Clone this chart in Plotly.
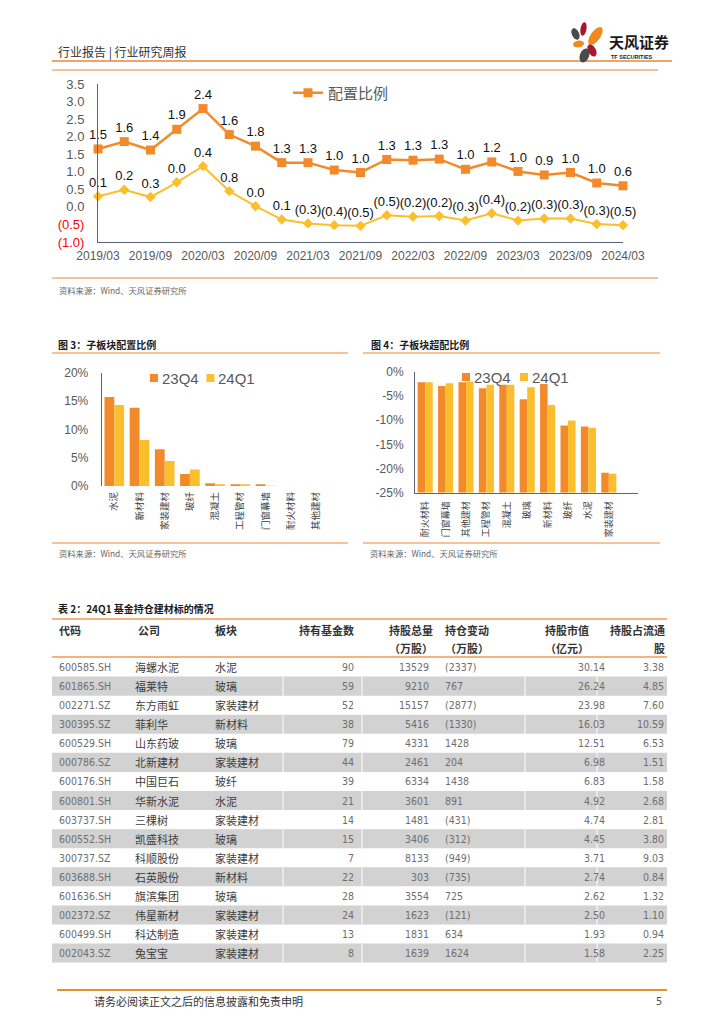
import math
import plotly.graph_objects as go

W, H = 724, 1024
PAGE_OFFSET = 8  # browser body margin; page coordinates are measured from the window corner


def fx(p):
    return (p - PAGE_OFFSET) / W


def fy(p):
    return 1 - (p - PAGE_OFFSET) / H


ORANGE = "#F28A2C"
YELLOW = "#FBBF2E"
AXIS = "#5A6578"
GREY_TXT = "#595959"
FRAME = "#F4AE74"
CJK = "Noto Sans CJK SC"
SANS = "Liberation Sans, Arial, Noto Sans CJK SC"
NARROW = "Liberation Sans Narrow, Arial Narrow, DejaVu Sans Condensed, Liberation Sans, Noto Sans CJK SC"

# ---------------- data: top line chart ----------------
quarters = ["2019/03", "2019/06", "2019/09", "2019/12", "2020/03", "2020/06", "2020/09",
            "2020/12", "2021/03", "2021/06", "2021/09", "2021/12", "2022/03", "2022/06",
            "2022/09", "2022/12", "2023/03", "2023/06", "2023/09", "2023/12", "2024/03"]
alloc_vals = [1.65, 1.86, 1.62, 2.21, 2.80, 2.06, 1.73, 1.26, 1.26, 1.05, 0.98,
              1.35, 1.33, 1.36, 1.07, 1.28, 1.01, 0.91, 0.98, 0.68, 0.60]
alloc_labels = ["1.5", "1.6", "1.4", "1.9", "2.4", "1.6", "1.8", "1.3", "1.3", "1.0", "1.0",
                "1.3", "1.3", "1.3", "1.0", "1.2", "1.0", "0.9", "1.0", "1.0", "0.6"]
over_vals = [0.30, 0.49, 0.28, 0.70, 1.16, 0.45, 0.02, -0.36, -0.47, -0.52, -0.54,
             -0.24, -0.28, -0.26, -0.39, -0.18, -0.39, -0.33, -0.33, -0.49, -0.52]
over_labels = ["0.1", "0.2", "0.3", "0.0", "0.4", "0.8", "0.0", "0.1", "(0.3)", "(0.4)", "(0.5)",
               "(0.5)", "(0.2)", "(0.2)", "(0.3)", "(0.4)", "(0.2)", "(0.3)", "(0.3)", "(0.3)", "(0.5)"]
top_yticks = [3.5, 3.0, 2.5, 2.0, 1.5, 1.0, 0.5, 0.0, -0.5, -1.0]
top_yticktext = ["3.5", "3.0", "2.5", "2.0", "1.5", "1.0", "0.5", "0.0",
                 '<span style="color:#FF0000">(0.5)</span>', '<span style="color:#FF0000">(1.0)</span>']

# ---------------- data: figure 3 ----------------
cats3 = ["水泥", "新材料", "家装建材", "玻纤", "混凝土", "工程管材", "门窗幕墙", "耐火材料", "其他建材"]
q4_3 = [15.7, 13.8, 6.5, 2.1, 0.5, 0.3, 0.3, 0.0, 0.0]
q1_3 = [14.3, 8.1, 4.4, 2.9, 0.3, 0.3, 0.05, 0.0, 0.0]
ticks3 = [0, 5, 10, 15, 20]

# ---------------- data: figure 4 ----------------
cats4 = ["耐火材料", "门窗幕墙", "其他建材", "工程管材", "混凝土", "玻璃", "新材料", "玻纤", "水泥", "家装建材"]
q4_4 = [-2.2, -2.95, -2.2, -3.4, -2.7, -5.7, -2.55, -11.1, -11.3, -20.9]
q1_4 = [-2.2, -2.4, -2.0, -2.7, -2.7, -3.2, -6.9, -10.1, -11.6, -21.1]
ticks4 = [0, -5, -10, -15, -20, -25]
floor4 = -25

# ---------------- data: table ----------------
codes = ["600585.SH", "601865.SH", "002271.SZ", "300395.SZ", "600529.SH", "000786.SZ", "600176.SH", "600801.SH",
         "603737.SH", "600552.SH", "300737.SZ", "603688.SH", "601636.SH", "002372.SZ", "600499.SH", "002043.SZ"]
companies = ["海螺水泥", "福莱特", "东方雨虹", "菲利华", "山东药玻", "北新建材", "中国巨石", "华新水泥",
             "三棵树", "凯盛科技", "科顺股份", "石英股份", "旗滨集团", "伟星新材", "科达制造", "兔宝宝"]
sectors = ["水泥", "玻璃", "家装建材", "新材料", "玻璃", "家装建材", "玻纤", "水泥",
           "家装建材", "玻璃", "家装建材", "新材料", "玻璃", "家装建材", "家装建材", "家装建材"]
fund_counts = [90, 59, 52, 38, 79, 44, 39, 21, 14, 15, 7, 22, 28, 24, 13, 8]
total_shares = [13529, 9210, 15157, 5416, 4331, 2461, 6334, 3601, 1481, 3406, 8133, 303, 3554, 1623, 1831, 1639]
share_change = [-2337, 767, -2877, -1330, 1428, 204, 1438, 891, -431, -312, -949, -735, 725, -121, 634, 1624]
market_value = [30.14, 26.24, 23.98, 16.03, 12.51, 6.98, 6.83, 4.92, 4.74, 4.45, 3.71, 2.74, 2.62, 2.50, 1.93, 1.58]
float_pct = [3.38, 4.85, 7.60, 10.59, 6.53, 1.51, 1.58, 2.68, 2.81, 3.80, 9.03, 0.84, 1.32, 1.10, 0.94, 2.25]
header_top = ["代码", "公司", "板块", "持有基金数", "持股总量", "持仓变动", "持股市值", "持股占流通"]
header_bottom = ["", "", "", "", "（万股）", "（万股）", "（亿元）", "股"]

fig = go.Figure()

# top line chart
fig.add_trace(go.Scatter(
    x=quarters, y=alloc_vals, mode="lines+markers+text", text=alloc_labels,
    textposition="top center", textfont=dict(size=13, color="#111111", family=SANS),
    line=dict(color=ORANGE, width=2.5), marker=dict(symbol="square", size=9, color=ORANGE),
    name="配置比例", cliponaxis=False, xaxis="x", yaxis="y", legend="legend"))
fig.add_trace(go.Scatter(
    x=quarters, y=over_vals, mode="lines+markers+text", text=over_labels,
    textposition="top center", textfont=dict(size=13, color="#111111", family=SANS),
    line=dict(color=YELLOW, width=2), marker=dict(symbol="diamond", size=8, color=YELLOW),
    name="超配比例", showlegend=False, cliponaxis=False, xaxis="x", yaxis="y"))

# figure 3 bars
fig.add_trace(go.Bar(x=cats3, y=q4_3, name="23Q4", marker=dict(color=ORANGE, line=dict(width=0)),
                     width=0.39, offset=-0.39, xaxis="x2", yaxis="y2", showlegend=False))
fig.add_trace(go.Bar(x=cats3, y=q1_3, name="24Q1", marker=dict(color=YELLOW, line=dict(width=0)),
                     width=0.39, offset=0.0, xaxis="x2", yaxis="y2", showlegend=False))

# figure 4 bars (drawn up from the axis floor like the original)
fig.add_trace(go.Bar(x=cats4, y=[v - floor4 for v in q4_4], base=floor4, customdata=q4_4,
                     hovertemplate="%{x}: %{customdata}%<extra>23Q4</extra>",
                     name="23Q4", marker=dict(color=ORANGE, line=dict(width=0)),
                     width=0.37, offset=-0.37, xaxis="x3", yaxis="y3", showlegend=False))
fig.add_trace(go.Bar(x=cats4, y=[v - floor4 for v in q1_4], base=floor4, customdata=q1_4,
                     hovertemplate="%{x}: %{customdata}%<extra>24Q1</extra>",
                     name="24Q1", marker=dict(color=YELLOW, line=dict(width=0)),
                     width=0.37, offset=0.0, xaxis="x3", yaxis="y3", showlegend=False))

shapes = []
annotations = []


def hline(y, x0, x1, color, width):
    shapes.append(dict(type="line", xref="paper", yref="paper", x0=fx(x0), x1=fx(x1),
                       y0=fy(y), y1=fy(y), line=dict(color=color, width=width)))


def text(x, y, s, size, color="#333333", family=CJK, anchor="left", bold=False, yanchor="middle"):
    annotations.append(dict(x=fx(x), y=fy(y), xref="paper", yref="paper", text=s, showarrow=False,
                            xanchor=anchor, yanchor=yanchor,
                            font=dict(size=size, color=color, family=family,
                                      weight="bold" if bold else "normal")))


# header
text(56, 52, "行业报告 | 行业研究周报", 12, "#333333", CJK)
hline(61, 52, 672, "#EE8434", 1.6)
text(607, 41, "天风证券", 15, "#1a1a1a", CJK, bold=True)
text(609, 57, "TF SECURITIES", 5.5, "#1a1a1a", SANS, bold=True)


def ellipse(cx, cy, rx, ry, ang, color):
    k = 0.5523
    a = math.radians(ang)
    ca, sa = math.cos(a), math.sin(a)

    def pt(u, v):
        return (cx + u * ca - v * sa, cy + u * sa + v * ca)
    pts = [
        (pt(rx, 0), pt(rx, k * ry), pt(k * rx, ry), pt(0, ry)),
        (pt(0, ry), pt(-k * rx, ry), pt(-rx, k * ry), pt(-rx, 0)),
        (pt(-rx, 0), pt(-rx, -k * ry), pt(-k * rx, -ry), pt(0, -ry)),
        (pt(0, -ry), pt(k * rx, -ry), pt(rx, -k * ry), pt(rx, 0)),
    ]
    d = "M %f,%f" % (fx(pts[0][0][0]), fy(pts[0][0][1]))
    for seg in pts:
        d += " C %f,%f %f,%f %f,%f" % (fx(seg[1][0]), fy(seg[1][1]), fx(seg[2][0]), fy(seg[2][1]),
                                      fx(seg[3][0]), fy(seg[3][1]))
    d += " Z"
    shapes.append(dict(type="path", xref="paper", yref="paper", path=d,
                       fillcolor=color, line=dict(width=0)))


ellipse(583.5, 29, 3.0, 6.8, 10, "#A8192E")
ellipse(595.5, 36, 4.8, 10.5, 35, "#F08A1C")
ellipse(575.5, 34, 3.6, 6.0, -25, "#4A4A4A")
ellipse(578.5, 44, 5.5, 3.4, -10, "#F08A1C")
ellipse(592.0, 50.5, 3.8, 6.5, -30, "#A8192E")
ellipse(584.5, 55.5, 4.6, 7.2, 20, "#4A4A4A")

# top chart frame
hline(70, 52, 658, FRAME, 1.5)
hline(278, 52, 658, FRAME, 1.5)
text(57, 290, "资料来源：Wind、天风证券研究所", 8.3, "#666666", CJK)

# figure 3 frame
text(56, 344, "图 3：子板块配置比例", 10, "#1a1a1a", CJK, bold=True)
hline(353, 52, 348, FRAME, 1.5)
hline(543, 52, 348, FRAME, 1.5)
text(57, 553, "资料来源：Wind、天风证券研究所", 8.3, "#666666", CJK)

# figure 4 frame
text(369, 344, "图 4：子板块超配比例", 10, "#1a1a1a", CJK, bold=True)
hline(353, 363, 660, FRAME, 1.5)
hline(543, 363, 660, FRAME, 1.5)
text(368, 553, "资料来源：Wind、天风证券研究所", 8.3, "#666666", CJK)


# compact legends for the bar charts
def legend_key(x, y, color, label):
    shapes.append(dict(type="rect", xref="paper", yref="paper", x0=fx(x), x1=fx(x + 8),
                       y0=fy(y + 4), y1=fy(y - 4), fillcolor=color, line=dict(width=0)))
    text(x + 10, y, label, 15, GREY_TXT, SANS)


legend_key(150, 378, ORANGE, "23Q4")
legend_key(206.5, 378, YELLOW, "24Q1")
legend_key(462, 377, ORANGE, "23Q4")
legend_key(520, 377, YELLOW, "24Q1")

# table
text(56, 608, "表 2：24Q1 基金持仓建材标的情况", 10, "#1a1a1a", CJK, bold=True)
row_h = 19.07
row0 = 657.5
for r in range(len(codes)):
    if r % 2 == 1:
        shapes.append(dict(type="rect", xref="paper", yref="paper", x0=fx(52), x1=fx(667),
                           y0=fy(row0 + (r + 1) * row_h), y1=fy(row0 + r * row_h),
                           fillcolor="#D2D2D2", line=dict(width=0), layer="below"))
        for xs in (283, 362, 525, 597):
            shapes.append(dict(type="line", xref="paper", yref="paper", x0=fx(xs), x1=fx(xs),
                               y0=fy(row0 + (r + 1) * row_h), y1=fy(row0 + r * row_h),
                               line=dict(color="#FFFFFF", width=1), layer="below"))
hline(619, 52, 667, "#EE9A55", 1.5)
hline(657, 52, 667, "#EE9A55", 1.5)

hdr_pos = [(57, "left"), (136, "left"), (213, "left"), (356, "right"),
           (387, "left"), (443, "left"), (543, "left"), (667, "right")]
for (hx, ha), t1, t2 in zip(hdr_pos, header_top, header_bottom):
    text(hx, 630, t1, 11, "#333333", CJK, anchor=ha, bold=True)
    if t2:
        text(hx, 648, t2, 11, "#333333", CJK, anchor=ha, bold=True)


def paren(v):
    return "(%d)" % abs(v) if v < 0 else "%d" % v


columns = [
    (codes, 57, "left", NARROW, "#6E6E6E", str, 10.5),
    (companies, 133, "left", CJK, "#3C3C3C", str, 11),
    (sectors, 213, "left", CJK, "#3C3C3C", str, 11),
    (fund_counts, 356, "right", NARROW, "#6E6E6E", str, 10.5),
    (total_shares, 431, "right", NARROW, "#6E6E6E", str, 10.5),
    (share_change, 443, "left", NARROW, "#6E6E6E", paren, 10.5),
    (market_value, 607, "right", NARROW, "#6E6E6E", lambda v: "%.2f" % v, 10.5),
    (float_pct, 666, "right", NARROW, "#6E6E6E", lambda v: "%.2f" % v, 10.5),
]
for vals, cx, ca, fam, col, fmt, fs in columns:
    for r, v in enumerate(vals):
        text(cx, row0 + (r + 0.5) * row_h, fmt(v), fs, col, fam, anchor=ca)

# footer
hline(990, 57, 667, "#E8922E", 2)
text(92, 1001, "请务必阅读正文之后的信息披露和免责申明", 11, "#333333", CJK)
text(664, 1001, "5", 11, "#555555", NARROW, anchor="right")

fig.update_layout(
    width=W, height=H, margin=dict(l=0, r=0, t=0, b=0),
    paper_bgcolor="white", plot_bgcolor="rgba(0,0,0,0)",
    template="none", barmode="overlay", showlegend=True,
    shapes=shapes, annotations=annotations,
    legend=dict(x=fx(288), y=fy(93), xanchor="left", yanchor="middle", orientation="h",
                font=dict(size=15, color=GREY_TXT, family=CJK), bgcolor="rgba(0,0,0,0)"),
    xaxis=dict(domain=[fx(98), fx(623)], type="category", range=[0, 20], tickmode="array",
               tickvals=quarters[::2], ticktext=quarters[::2], showline=True, linecolor=AXIS,
               linewidth=1, ticks="", showgrid=False, zeroline=False, anchor="y",
               tickfont=dict(size=12, color=GREY_TXT, family=SANS), ticklabelstandoff=3),
    yaxis=dict(domain=[fy(242), fy(84)], range=[-1, 3.5], tickmode="array", tickvals=top_yticks,
               ticktext=top_yticktext, showline=True, linecolor=AXIS, linewidth=1, ticks="",
               showgrid=False, zeroline=False, anchor="x",
               tickfont=dict(size=13, color=GREY_TXT, family=SANS), ticklabelstandoff=10),
    xaxis2=dict(domain=[fx(101.7), fx(328.5)], type="category", range=[-0.5, 8.5], showline=False,
                ticks="", showgrid=False, zeroline=False, anchor="y2", tickangle=-90,
                tickfont=dict(size=9.5, color="#404040", family=CJK), ticklabelstandoff=3),
    yaxis2=dict(domain=[fy(486), fy(372.7)], range=[0, 20], tickmode="array", tickvals=ticks3,
                ticktext=["%d%%" % t for t in ticks3], showline=True, linecolor=AXIS, linewidth=1,
                ticks="", showgrid=False, zeroline=False, anchor="x2",
                tickfont=dict(size=12, color=GREY_TXT, family=SANS), ticklabelstandoff=10),
    xaxis3=dict(domain=[fx(415), fx(638)], type="category", range=[-0.5, 10.43], showline=True,
                linecolor=AXIS, linewidth=1, ticks="", showgrid=False, zeroline=False, anchor="y3",
                tickangle=-90, tickfont=dict(size=9, color="#404040", family=CJK), ticklabelstandoff=4),
    yaxis3=dict(domain=[fy(492.7), fy(371.7)], range=[-25, 0], tickmode="array", tickvals=ticks4,
                ticktext=["%d%%" % t for t in ticks4], showline=True, linecolor=AXIS, linewidth=1,
                ticks="", showgrid=False, zeroline=False, anchor="x3",
                tickfont=dict(size=12, color=GREY_TXT, family=SANS), ticklabelstandoff=8),
)

fig.write_html("out.html")
